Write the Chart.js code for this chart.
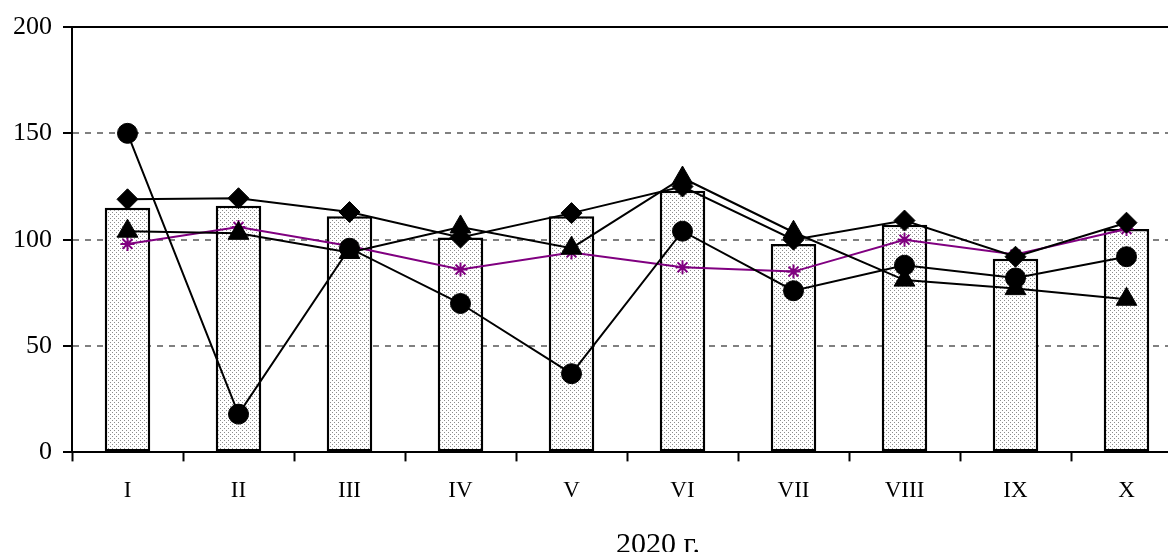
<!DOCTYPE html>
<html>
<head>
<meta charset="utf-8">
<script src="https://cdn.jsdelivr.net/npm/chart.js@4.4.1/dist/chart.umd.min.js"></script>
<style>
  html, body { margin: 0; padding: 0; background: #fff; overflow: hidden; }
  #wrap { width: 1168px; height: 552px; overflow: hidden; }
</style>
</head>
<body>
<div id="wrap"><canvas id="chart" width="1200" height="552"></canvas></div>
<script>
// Months of 2020 (roman numerals on the x axis)
const MONTHS = ['I', 'II', 'III', 'IV', 'V', 'VI', 'VII', 'VIII', 'IX', 'X'];

// Dotted bars
const BAR_VALUES = [115, 116, 111, 101, 111, 123, 98, 107, 91, 105];

// Line series
const DIAMOND_VALUES = [119, 119.5, 113, 101, 112.5, 125, 100, 109, 92, 108];
const TRIANGLE_VALUES = [104, 103, 94, 106, 96, 129, 103.5, 81, 77, 72];
const CIRCLE_VALUES = [150, 18, 96, 70, 37, 104, 76, 88, 82, 92];
const STAR_VALUES = [98, 106, 97, 86, 94, 87, 85, 100, 93, 105];

const Y_TICKS = [0, 50, 100, 150, 200];
const X_TITLE = '2020 г.';

const FONT = '"Liberation Serif", "Times New Roman", serif';

// small dot pattern for the bars
function dotPattern() {
  const c = document.createElement('canvas');
  c.width = 4; c.height = 4;
  const g = c.getContext('2d');
  g.fillStyle = '#ffffff';
  g.fillRect(0, 0, 4, 4);
  g.fillStyle = '#8c8c8c';
  g.fillRect(0, 0, 1, 1);
  g.fillRect(2, 2, 1, 1);
  return g.createPattern(c, 'repeat');
}

function lineDataset(data, style, radius, color) {
  return {
    type: 'line',
    data: data,
    borderColor: color,
    backgroundColor: color,
    pointBackgroundColor: color,
    pointBorderColor: color,
    pointStyle: style,
    pointRadius: radius,
    pointBorderWidth: style === 'star' ? 2 : 1,
    borderWidth: 2,
    tension: 0,
    fill: false,
    order: 1
  };
}

// top frame line + x axis title
const framePlugin = {
  id: 'frame',
  afterDatasetsDraw(chart) {
    const { ctx, chartArea } = chart;
    ctx.save();
    ctx.strokeStyle = '#000';
    ctx.lineWidth = 2;
    ctx.beginPath();
    ctx.moveTo(chartArea.left, chartArea.top);
    ctx.lineTo(chartArea.right, chartArea.top);
    ctx.stroke();
    ctx.restore();
  },
  afterDraw(chart) {
    const { ctx, chartArea } = chart;
    ctx.save();
    ctx.fillStyle = '#000';
    ctx.font = '30px ' + FONT;
    ctx.textAlign = 'center';
    ctx.textBaseline = 'alphabetic';
    ctx.fillText(X_TITLE, (chartArea.left + chartArea.right) / 2 + 31, chartArea.bottom + 101);
    ctx.restore();
  }
};

new Chart(document.getElementById('chart'), {
  type: 'bar',
  data: {
    labels: MONTHS,
    datasets: [
      lineDataset(DIAMOND_VALUES, 'rectRot', 10.5, '#000000'),
      lineDataset(TRIANGLE_VALUES, 'triangle', 12, '#000000'),
      lineDataset(CIRCLE_VALUES, 'circle', 10, '#000000'),
      lineDataset(STAR_VALUES, 'star', 7, '#800080'),
      {
        type: 'bar',
        data: BAR_VALUES,
        backgroundColor: dotPattern(),
        borderColor: '#000000',
        borderWidth: 2.5,
        borderSkipped: false,
        categoryPercentage: 1,
        barPercentage: 0.41,
        order: 10
      }
    ]
  },
  options: {
    responsive: false,
    animation: false,
    layout: { padding: { left: 2, right: 18, top: 27, bottom: 31 } },
    plugins: {
      legend: { display: false },
      tooltip: { enabled: false }
    },
    scales: {
      x: {
        offset: true,
        grid: {
          offset: true,
          drawOnChartArea: false,
          drawTicks: true,
          tickLength: 9,
          tickColor: '#000',
          tickWidth: 2
        },
        border: { display: true, color: '#000', width: 2 },
        ticks: {
          color: '#000',
          padding: 16,
          maxRotation: 0,
          font: { family: FONT, size: 23 }
        }
      },
      y: {
        min: 0,
        max: 200,
        afterBuildTicks(scale) {
          scale.ticks = Y_TICKS.map(v => ({ value: v }));
        },
        grid: {
          color: '#808080',
          lineWidth: 2,
          drawTicks: true,
          tickLength: 9,
          tickColor: '#000',
          tickWidth: 2,
          tickBorderDash: []
        },
        border: { display: true, color: '#000', width: 2, dash: [6, 6] },
        ticks: {
          color: '#000',
          padding: 11,
          font: { family: FONT, size: 26 }
        }
      }
    }
  },
  plugins: [framePlugin]
});
</script>
</body>
</html>
